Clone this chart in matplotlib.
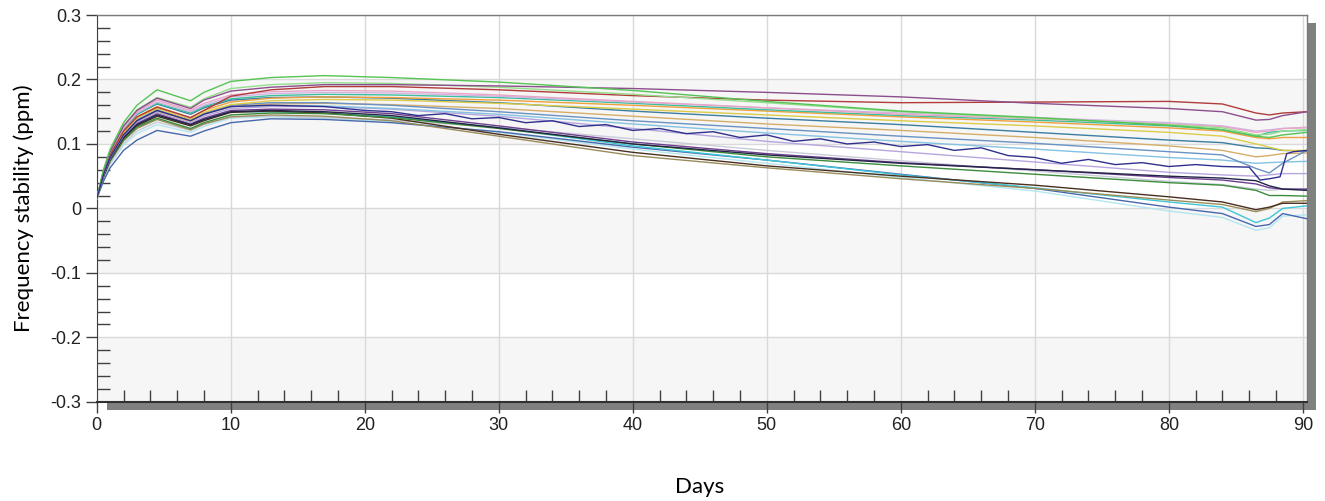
import matplotlib
matplotlib.use("Agg")
import matplotlib.pyplot as plt
from matplotlib.patches import Rectangle
from matplotlib.ticker import MultipleLocator

# Sample days shared by most series
days = [0, 0.5, 1, 2, 3, 4.5, 7, 8, 10, 13, 17, 22, 30, 40, 50, 60, 70, 80, 84, 86.5, 87.5, 88.5, 90.3]

y_ticks = [-0.3, -0.2, -0.1, 0, 0.1, 0.2, 0.3]
y_tick_labels = ["-0.3", "-0.2", "-0.1", "0", "0.1", "0.2", "0.3"]

# Frequency stability (ppm) per oscillator
green = [0.015, 0.060, 0.092, 0.133, 0.160, 0.184, 0.167, 0.180, 0.197, 0.203, 0.206, 0.203, 0.196, 0.183, 0.166, 0.151, 0.141, 0.129, 0.122, 0.112, 0.110, 0.114, 0.118]
purple = [0.015, 0.058, 0.088, 0.128, 0.152, 0.171, 0.155, 0.168, 0.182, 0.188, 0.192, 0.192, 0.190, 0.186, 0.180, 0.173, 0.163, 0.155, 0.150, 0.137, 0.138, 0.144, 0.150]
red = [0.015, 0.055, 0.083, 0.120, 0.142, 0.157, 0.141, 0.152, 0.174, 0.184, 0.189, 0.189, 0.184, 0.175, 0.168, 0.164, 0.165, 0.166, 0.162, 0.148, 0.145, 0.148, 0.150]
pink = [0.015, 0.057, 0.086, 0.126, 0.150, 0.168, 0.152, 0.163, 0.176, 0.181, 0.183, 0.182, 0.176, 0.166, 0.156, 0.146, 0.139, 0.131, 0.127, 0.118, 0.120, 0.124, 0.125]
teal_green = [0.015, 0.055, 0.084, 0.122, 0.146, 0.163, 0.148, 0.158, 0.170, 0.175, 0.177, 0.176, 0.172, 0.163, 0.153, 0.144, 0.137, 0.128, 0.122, 0.112, 0.118, 0.120, 0.121]
orange = [0.015, 0.054, 0.082, 0.119, 0.142, 0.158, 0.140, 0.152, 0.165, 0.171, 0.173, 0.172, 0.168, 0.160, 0.151, 0.142, 0.134, 0.125, 0.120, 0.110, 0.108, 0.110, 0.110]
yellow = [0.015, 0.053, 0.081, 0.117, 0.140, 0.155, 0.137, 0.149, 0.161, 0.167, 0.169, 0.168, 0.163, 0.154, 0.145, 0.136, 0.128, 0.118, 0.112, 0.100, 0.095, 0.090, 0.090]
teal_blue = [0.015, 0.055, 0.084, 0.122, 0.146, 0.162, 0.146, 0.156, 0.168, 0.172, 0.173, 0.171, 0.164, 0.151, 0.140, 0.130, 0.118, 0.106, 0.102, 0.094, 0.093, 0.090, 0.089]
tan = [0.015, 0.052, 0.079, 0.114, 0.136, 0.151, 0.135, 0.146, 0.158, 0.162, 0.163, 0.161, 0.155, 0.143, 0.131, 0.121, 0.110, 0.097, 0.090, 0.080, 0.082, 0.085, 0.086]
light_blue = [0.015, 0.053, 0.080, 0.116, 0.138, 0.153, 0.138, 0.148, 0.158, 0.160, 0.159, 0.155, 0.146, 0.131, 0.117, 0.104, 0.092, 0.079, 0.075, 0.070, 0.071, 0.072, 0.073]
light_purple = [0.015, 0.052, 0.078, 0.113, 0.134, 0.149, 0.133, 0.143, 0.155, 0.158, 0.158, 0.154, 0.143, 0.124, 0.104, 0.088, 0.072, 0.056, 0.052, 0.050, 0.052, 0.054, 0.054]
dark_navy = [0.015, 0.050, 0.076, 0.110, 0.130, 0.145, 0.130, 0.138, 0.150, 0.152, 0.150, 0.144, 0.125, 0.100, 0.083, 0.070, 0.060, 0.050, 0.047, 0.043, 0.035, 0.030, 0.028]
purple2 = [0.015, 0.051, 0.077, 0.112, 0.132, 0.147, 0.131, 0.140, 0.152, 0.154, 0.153, 0.147, 0.128, 0.103, 0.085, 0.071, 0.060, 0.048, 0.044, 0.038, 0.032, 0.030, 0.030]
dark_green = [0.015, 0.049, 0.074, 0.106, 0.126, 0.140, 0.124, 0.133, 0.145, 0.148, 0.147, 0.141, 0.124, 0.100, 0.080, 0.066, 0.053, 0.040, 0.036, 0.028, 0.020, 0.020, 0.019]
brown = [0.015, 0.050, 0.075, 0.108, 0.128, 0.143, 0.128, 0.136, 0.149, 0.151, 0.148, 0.140, 0.115, 0.087, 0.066, 0.050, 0.036, 0.018, 0.010, -0.002, 0.002, 0.008, 0.008]
olive = [0.015, 0.048, 0.073, 0.105, 0.124, 0.138, 0.122, 0.131, 0.142, 0.145, 0.143, 0.136, 0.112, 0.082, 0.063, 0.046, 0.031, 0.013, 0.006, -0.005, 0.000, 0.010, 0.012]
cyan = [0.015, 0.050, 0.076, 0.110, 0.130, 0.144, 0.129, 0.138, 0.150, 0.150, 0.148, 0.142, 0.125, 0.097, 0.075, 0.052, 0.032, 0.010, 0.002, -0.022, -0.015, 0.000, 0.004]
blue = [0.015, 0.042, 0.063, 0.090, 0.106, 0.121, 0.112, 0.120, 0.133, 0.139, 0.138, 0.133, 0.119, 0.095, 0.075, 0.053, 0.031, 0.002, -0.008, -0.028, -0.025, -0.008, -0.016]
light_cyan = [0.015, 0.045, 0.068, 0.098, 0.116, 0.130, 0.118, 0.127, 0.140, 0.142, 0.140, 0.135, 0.118, 0.092, 0.070, 0.048, 0.027, -0.004, -0.014, -0.034, -0.030, -0.012, -0.010]
light_gray = [0.015, 0.046, 0.070, 0.101, 0.120, 0.134, 0.121, 0.130, 0.142, 0.143, 0.141, 0.137, 0.126, 0.108, 0.090, 0.074, 0.058, 0.042, 0.037, 0.030, 0.028, 0.030, 0.030]
lavender = [0.015, 0.056, 0.085, 0.124, 0.148, 0.165, 0.150, 0.160, 0.173, 0.178, 0.180, 0.179, 0.174, 0.165, 0.156, 0.148, 0.141, 0.133, 0.128, 0.120, 0.122, 0.124, 0.126]
light_green = [0.015, 0.058, 0.088, 0.128, 0.153, 0.172, 0.157, 0.170, 0.186, 0.192, 0.195, 0.194, 0.188, 0.177, 0.164, 0.150, 0.140, 0.130, 0.125, 0.114, 0.115, 0.120, 0.122]
steel = [0.015, 0.052, 0.079, 0.115, 0.137, 0.152, 0.137, 0.147, 0.160, 0.164, 0.164, 0.160, 0.150, 0.136, 0.124, 0.112, 0.101, 0.088, 0.083, 0.062, 0.055, 0.070, 0.090]

# The noisy navy trace has its own, finer sampling
navy_days = [0, 0.5, 1, 2, 3, 4.5, 7, 8, 10, 13, 17, 20, 22, 24, 26, 28, 30, 32, 34, 36, 38, 40,
             42, 44, 46, 48, 50, 52, 54, 56, 58, 60, 62, 64, 66, 68, 70, 72, 74, 76, 78, 80, 82,
             84, 86, 86.8, 87.5, 88.3, 88.8, 89.3, 90.3]
navy = [0.015, 0.052, 0.079, 0.114, 0.136, 0.152, 0.136, 0.146, 0.158, 0.160, 0.158, 0.152, 0.150,
        0.144, 0.147, 0.139, 0.141, 0.133, 0.136, 0.127, 0.130, 0.121, 0.124, 0.116, 0.119, 0.110,
        0.114, 0.104, 0.108, 0.100, 0.103, 0.096, 0.099, 0.090, 0.094, 0.082, 0.079, 0.070, 0.076,
        0.068, 0.071, 0.065, 0.068, 0.065, 0.064, 0.044, 0.046, 0.049, 0.085, 0.088, 0.090]

series = [
    (light_cyan, "#b4e6f0"), (light_gray, "#c8ccd8"), (blue, "#4868ae"), (cyan, "#3ec6d6"),
    (olive, "#9a8c5a"), (brown, "#4a2e1e"), (dark_green, "#3b8c3b"), (purple2, "#6e3f8e"),
    (dark_navy, "#232346"), (light_purple, "#b6a6de"), (light_blue, "#84c2e2"), (tan, "#d6ae6a"),
    (steel, "#6a92c2"), (teal_blue, "#3a7ea2"), (yellow, "#dccc48"), (orange, "#f0a03c"),
    (teal_green, "#3cbf9c"), (lavender, "#d2b4e2"), (pink, "#e8a6c6"), (red, "#b23b3b"),
    (light_green, "#94de8c"), (purple, "#8c4f8c"), (green, "#55c455"),
]

fig = plt.figure(figsize=(13.25, 5.01), dpi=100)
ax = fig.add_axes([0.073, 0.198, 0.9133, 0.772])

# Alternating background bands and grid
for lo, hi in [(0.1, 0.2), (-0.1, 0.0), (-0.3, -0.2)]:
    ax.axhspan(lo, hi, color="#f6f6f6", zorder=0, lw=0)
ax.grid(True, color="#d9d9d9", lw=1.0, zorder=1)
ax.set_axisbelow(True)

for vals, col in series:
    ax.plot(days, vals, color=col, lw=1.0, zorder=3)
ax.plot(navy_days, navy, color="#30308e", lw=1.0, zorder=3)

ax.set_xlim(0, 90.3)
ax.set_ylim(-0.3, 0.3)
ax.xaxis.set_major_locator(MultipleLocator(10))
ax.xaxis.set_minor_locator(MultipleLocator(2))
ax.set_yticks(y_ticks)
ax.set_yticklabels(y_tick_labels)
ax.yaxis.set_minor_locator(MultipleLocator(0.02))

ax.tick_params(axis="both", which="major", direction="out", length=8, width=1,
               color="#404040", labelsize=13, labelcolor="#222222", pad=3,
               labelfontfamily="Liberation Sans")
ax.tick_params(axis="both", which="minor", direction="in", length=9, width=1, color="#404040")

for side in ["top", "right"]:
    ax.spines[side].set_color("#7a7a7a")
    ax.spines[side].set_linewidth(1.0)
ax.spines["left"].set_color("#404040")
ax.spines["bottom"].set_color("#303030")
ax.spines["bottom"].set_linewidth(1.5)

# Drop shadow along the bottom and right edges
shadow = "#808080"
ax.add_patch(Rectangle((0.0085, -0.0215), 0.9992, 0.0215, transform=ax.transAxes,
                       color=shadow, clip_on=False, zorder=0.5, lw=0))
ax.add_patch(Rectangle((1.0, -0.0215), 0.0077, 1.0005, transform=ax.transAxes,
                       color=shadow, clip_on=False, zorder=0.5, lw=0))

ax.set_ylabel("Frequency stability (ppm)", fontsize=16, family="Lato", labelpad=12)
fig.text(0.528, 0.028, "Days", fontsize=16, family="Lato", ha="center", va="center")

fig.savefig("out.png", dpi=100)
